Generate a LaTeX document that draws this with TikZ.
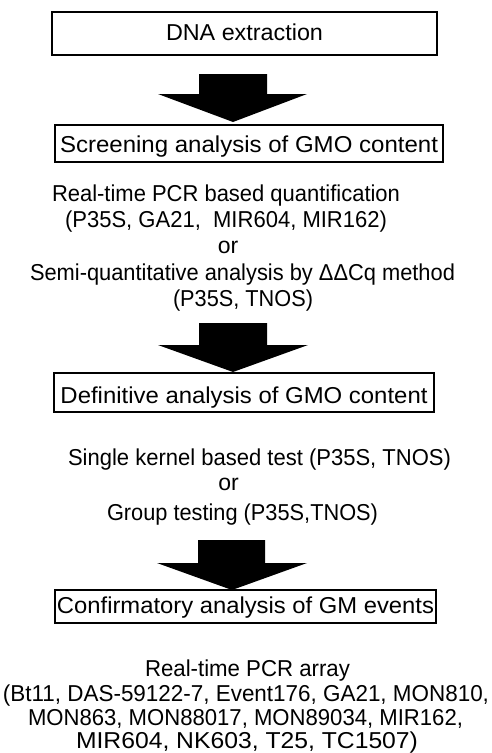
\documentclass[tikz,border=0pt]{standalone}
\usepackage{graphicx}
\usepackage{fontspec}
\setmainfont{Liberation Sans}
\newsavebox\fitbox
\newlength\fitlen
\newcommand\fitw[2]{\sbox\fitbox{#2}\fitlen=\wd\fitbox\pgfmathsetmacro\fitfac{#1/\fitlen}\scalebox{\fitfac}[1]{\usebox\fitbox}}
\begin{document}
\begin{tikzpicture}[x=1pt,y=-1pt,
  box/.style={draw,line width=1.1pt,inner sep=0pt,font=\fontsize{23}{25}\selectfont},
  txt/.style={inner sep=0pt,anchor=base,font=\fontsize{23}{25}\selectfont},
  blk/.style={fill=black,draw=none}]
\path[use as bounding box,fill=white] (0,0) rectangle (492,753);
\node[box,minimum width=385pt,minimum height=43pt,text height=16pt,text depth=2pt] (b1) at (244.5,33.5) {\fitw{157}{DNA extraction}};
\node[box,minimum width=388pt,minimum height=37pt,text height=17pt,text depth=0pt] (b2) at (249,143.5) {\fitw{378}{Screening analysis of GMO content}};
\node[box,minimum width=380pt,minimum height=39pt,text height=22pt,text depth=0pt] (b3) at (244,392.5) {\fitw{367}{Definitive analysis of GMO content}};
\node[box,minimum width=381pt,minimum height=33pt,text height=16pt,text depth=3pt] (b4) at (245.5,606.5) {\fitw{377}{Confirmatory analysis of GM events}};
% text blocks
\node[txt] (t1) at (226,201) {\fitw{348}{Real-time PCR based quantification}};
\node[txt] (t2) at (226,227) {\fitw{322}{(P35S, GA21,\ \ MIR604, MIR162)}};
\node[txt] (t3) at (228,253) {or};
\node[txt] (t4) at (242.5,280) {\fitw{425}{Semi-quantitative analysis by ΔΔCq method}};
\node[txt] (t5) at (243,306) {\fitw{140}{(P35S, TNOS)}};
\node[txt] (s1) at (259.5,465) {\fitw{383}{Single kernel based test (P35S, TNOS)}};
\node[txt] (s2) at (228.5,490) {or};
\node[txt] (s3) at (242.5,520) {\fitw{271}{Group testing (P35S,TNOS)}};
\node[txt] (r1) at (247.5,676) {\fitw{205}{Real-time PCR array}};
\node[txt] (r2) at (246,701) {\fitw{486}{(Bt11, DAS-59122-7, Event176, GA21, MON810,}};
\node[txt] (r3) at (245.5,725) {\fitw{435}{MON863, MON88017, MON89034, MIR162,}};
\node[txt] (r4) at (247,748) {\fitw{342}{MIR604, NK603, T25, TC1507)}};
% block arrows
\fill[blk] (199,74) -- (267,74) -- (267,94) -- (307,94) -- (233,122) -- (158,94) -- (199,94) -- cycle;
\fill[blk] (199,323) -- (267,323) -- (267,345) -- (308,345) -- (233,372) -- (158,345) -- (199,345) -- cycle;
\fill[blk] (198,540) -- (265,540) -- (265,563) -- (307,563) -- (232,590) -- (157,563) -- (198,563) -- cycle;
\end{tikzpicture}
\end{document}
